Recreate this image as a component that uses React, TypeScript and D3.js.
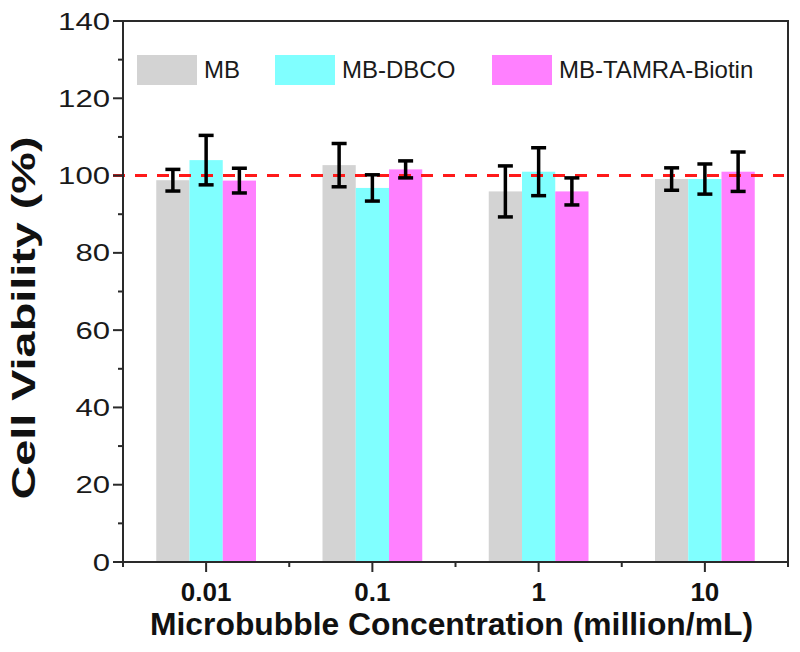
import React from "react";
import * as d3 from "d3";

const categories = ["0.01", "0.1", "1", "10"];
const seriesNames = ["MB", "MB-DBCO", "MB-TAMRA-Biotin"];
const mbValues = [98.8, 102.7, 95.9, 99.1];
const mbErrors = [2.8, 5.6, 6.6, 2.9];
const dbcoValues = [104.0, 96.8, 101.0, 99.1];
const dbcoErrors = [6.4, 3.4, 6.2, 3.9];
const tamraValues = [98.7, 101.6, 95.9, 101.0];
const tamraErrors = [3.2, 2.2, 3.5, 5.1];
const yTicks = [0, 20, 40, 60, 80, 100, 120, 140];
const yMinorTicks = [10, 30, 50, 70, 90, 110, 130];
const referenceLine = 100;

const colors = ["#d3d3d3", "#80ffff", "#ff80ff"];
const W = 800;
const H = 652;
const left = 123;
const right = 788;
const top = 21;
const bottom = 562;

export default function App() {
  const series = [
    { name: seriesNames[0], values: mbValues, errors: mbErrors, color: colors[0] },
    { name: seriesNames[1], values: dbcoValues, errors: dbcoErrors, color: colors[1] },
    { name: seriesNames[2], values: tamraValues, errors: tamraErrors, color: colors[2] },
  ];
  const x = d3.scaleBand<string>().domain(categories).range([left, right]).padding(0);
  const groupW = x.bandwidth() * 0.6;
  const inner = d3.scaleBand<string>().domain(seriesNames).range([0, groupW]).padding(0);
  const y = d3.scaleLinear().domain([0, 140]).range([bottom, top]);
  const boundaries = [...categories.map((c) => x(c)!), right];
  const legendX = [137, 275, 492];
  const axisColor = "#2a2a2a";
  const capW = 15;

  return (
    <svg
      width={W}
      height={H}
      style={{ position: "absolute", left: 0, top: 0, background: "#fff" }}
      fontFamily="Liberation Sans, Arial, sans-serif"
    >
      <rect x={0} y={0} width={W} height={H} fill="#fff" />
      {/* bars */}
      {series.map((s) =>
        categories.map((c, i) => {
          const bx = x(c)! + (x.bandwidth() - groupW) / 2 + inner(s.name)!;
          return (
            <rect
              key={s.name + c}
              x={bx}
              y={y(s.values[i])}
              width={inner.bandwidth()}
              height={y(0) - y(s.values[i])}
              fill={s.color}
            />
          );
        })
      )}
      {/* reference line */}
      <line
        x1={left - 10}
        x2={right - 4}
        y1={y(referenceLine)}
        y2={y(referenceLine)}
        stroke="#ff1a1a"
        strokeWidth={3}
        strokeDasharray="12,10"
      />
      {/* error bars */}
      {series.map((s) =>
        categories.map((c, i) => {
          const cx = x(c)! + (x.bandwidth() - groupW) / 2 + inner(s.name)! + inner.bandwidth() / 2;
          const y1 = y(s.values[i] + s.errors[i]);
          const y2 = y(s.values[i] - s.errors[i]);
          return (
            <g key={"e" + s.name + c} stroke="#000" strokeWidth={3.5}>
              <line x1={cx} x2={cx} y1={y1} y2={y2} />
              <line x1={cx - capW / 2} x2={cx + capW / 2} y1={y1} y2={y1} />
              <line x1={cx - capW / 2} x2={cx + capW / 2} y1={y2} y2={y2} />
            </g>
          );
        })
      )}
      {/* frame */}
      <rect x={left} y={top} width={right - left} height={bottom - top} fill="none" stroke={axisColor} strokeWidth={2} />
      {/* y ticks */}
      {yTicks.map((t) => (
        <g key={"yt" + t}>
          <line x1={left - 10} x2={left} y1={y(t)} y2={y(t)} stroke={axisColor} strokeWidth={2} />
          <text
            x={110}
            y={y(t) + 8.5}
            textAnchor="end"
            fontSize={23}
            fill="#1a1a1a"
            textLength={String(t).length * 17.3}
            lengthAdjust="spacingAndGlyphs"
          >
            {t}
          </text>
        </g>
      ))}
      {yMinorTicks.map((t) => (
        <line key={"ym" + t} x1={left - 5} x2={left} y1={y(t)} y2={y(t)} stroke={axisColor} strokeWidth={2} />
      ))}
      {/* x ticks */}
      {categories.map((c) => {
        const cx = x(c)! + x.bandwidth() / 2;
        return (
          <g key={"xt" + c}>
            <line x1={cx} x2={cx} y1={bottom} y2={bottom + 10} stroke={axisColor} strokeWidth={2} />
            <text x={cx} y={601} textAnchor="middle" fontSize={26} fontWeight="bold" fill="#111">
              {c}
            </text>
          </g>
        );
      })}
      {boundaries.map((b, i) => (
        <line key={"xm" + i} x1={b} x2={b} y1={bottom} y2={bottom + 5} stroke={axisColor} strokeWidth={2} />
      ))}
      {/* axis titles */}
      <text
        x={451.5}
        y={635}
        textAnchor="middle"
        fontSize={31}
        fontWeight="bold"
        fill="#111"
        textLength={603}
        lengthAdjust="spacingAndGlyphs"
      >
        Microbubble Concentration (million/mL)
      </text>
      <text
        transform={`translate(35,318) rotate(-90)`}
        textAnchor="middle"
        fontSize={33}
        fontWeight="bold"
        fill="#111"
        textLength={363}
        lengthAdjust="spacingAndGlyphs"
      >
        Cell Viability (%)
      </text>
      {/* legend */}
      {series.map((s, i) => (
        <g key={"lg" + s.name}>
          <rect x={legendX[i]} y={55} width={60} height={30} fill={s.color} />
          <text x={legendX[i] + 67} y={78} fontSize={24} fill="#1a1a1a">
            {s.name}
          </text>
        </g>
      ))}
    </svg>
  );
}
